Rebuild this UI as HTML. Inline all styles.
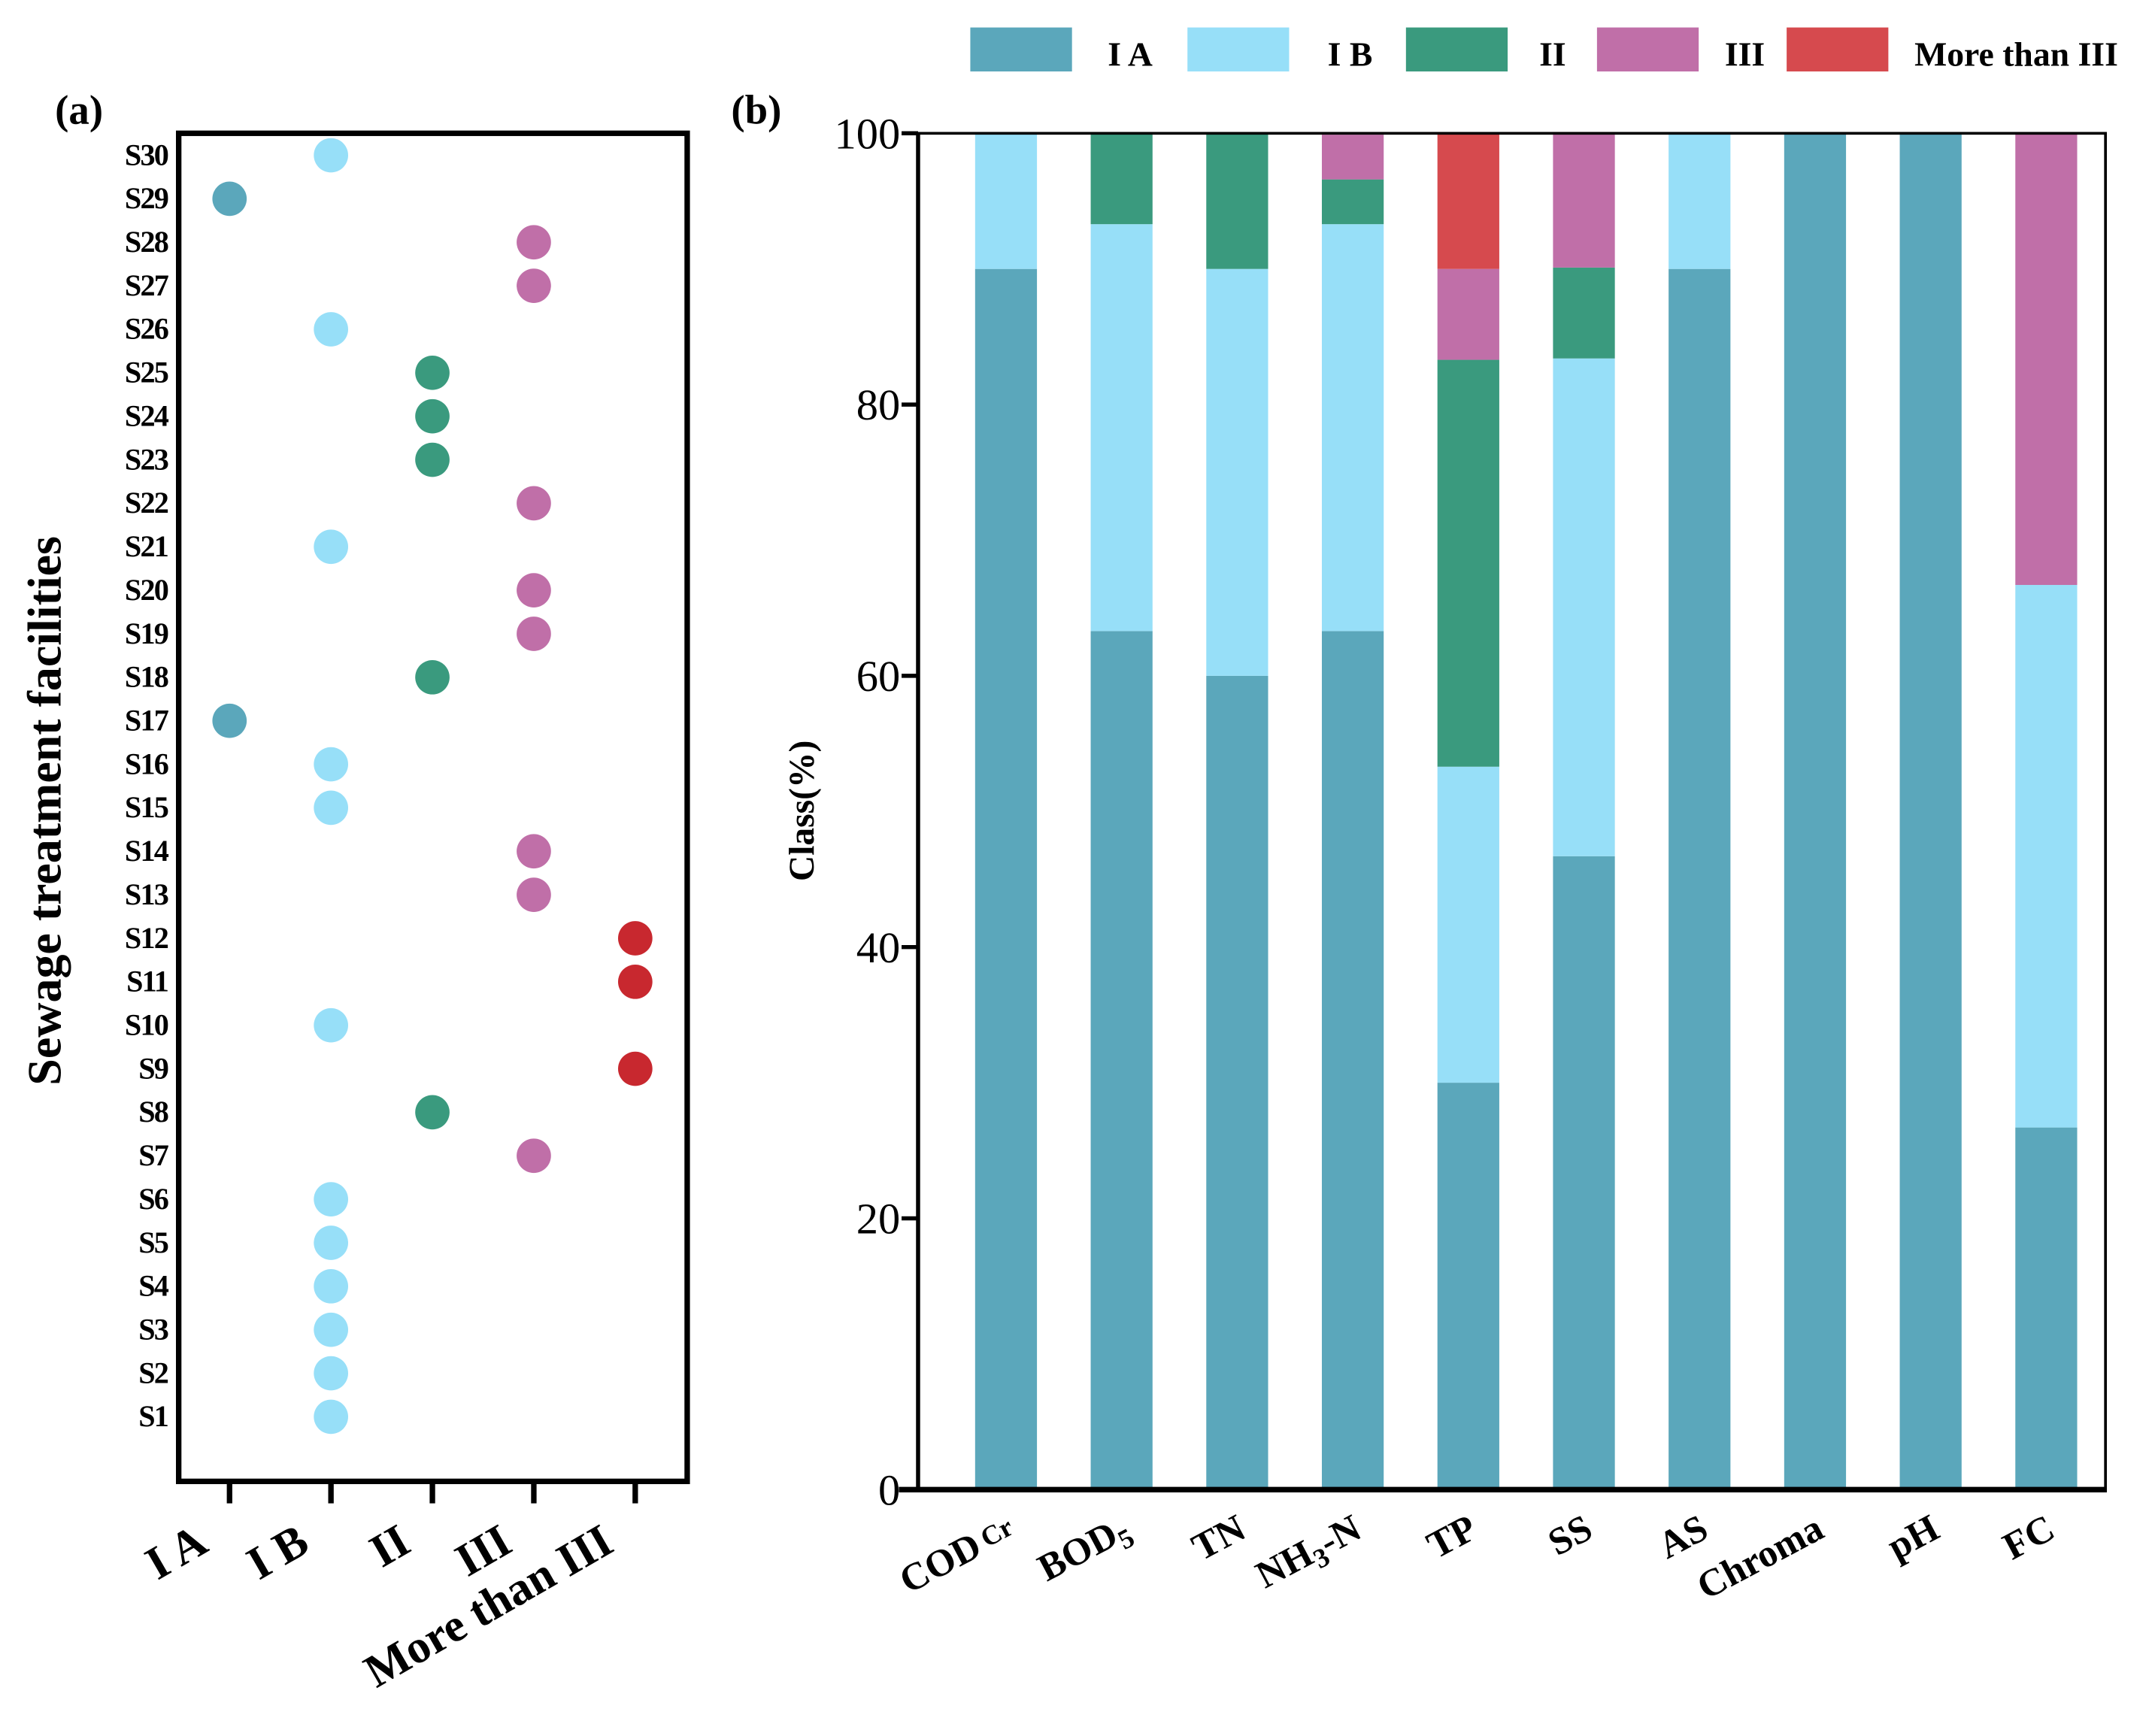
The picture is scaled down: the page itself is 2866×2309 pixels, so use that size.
<!DOCTYPE html>
<html><head><meta charset="utf-8"><style>
html,body{margin:0;padding:0;background:#fff}
svg{display:block}
text{font-family:"Liberation Serif",serif}
</style></head><body>
<svg id="chart" width="2866" height="2309" viewBox="0 0 1568 1263.3" xmlns="http://www.w3.org/2000/svg">
<g id="pa"></g>
<g id="pb"></g>
</svg>
<script>
const classes=["I A","I B","II","III","More than III"];
const classColors=["#5ba7bb","#97dff8","#3a9a7e","#c06fa8","#d64a4e"];
const dotColors=["#5ba7bb","#97dff8","#3a9a7e","#c06fa8","#c8282f"];
// facility S1..S30 class index
const facilityClass=[1,1,1,1,1,1,3,2,4,1,4,4,3,3,1,1,0,2,3,3,1,3,2,2,2,1,3,3,0,1];
const params=["COD","BOD","TN","NH3-N","TP","SS","AS","Chroma","pH","FC"];
const sIA=[90,63.3,60,63.3,30,46.7,90,100,100,26.7];
const sIB=[10,30,30,30,23.3,36.7,10,0,0,40];
const sII=[0,6.7,10,3.3,30,6.7,0,0,0,0];
const sIII=[0,0,0,3.3,6.7,10,0,0,0,33.3];
const sMore=[0,0,0,0,10,0,0,0,0,0];
const yTicks=[0,20,40,60,80,100];

const NS="http://www.w3.org/2000/svg";
function mk(p,t,a,txt){const e=document.createElementNS(NS,t);for(const k in a)e.setAttribute(k,a[k]);if(txt!==undefined)e.textContent=txt;p.appendChild(e);return e;}
const pa=document.getElementById('pa'),pb=document.getElementById('pb');

// ---- Panel a
const aL=130,aR=500,aT=97,aB=1078;
const ax=i=>167+i*73.8;
const ay=s=>1031-(s-1)*(1031-113)/29;
let t=mk(pa,'text',{x:40,y:90,'font-size':30,'font-weight':'bold'},'(a)');

let r=mk(pa,'rect',{x:aL,y:aT,width:aR-aL,height:aB-aT,fill:'none',stroke:'#000','stroke-width':4});

for(let s=1;s<=30;s++){
  const l=mk(pa,'text',{x:122,y:ay(s)+7,'font-size':22,'font-weight':'bold','text-anchor':'end','letter-spacing':-1},'S'+s);
  
  const c=facilityClass[s-1];
  const d=mk(pa,'ellipse',{cx:ax(c),cy:ay(s),rx:12.5,ry:12.5,fill:dotColors[c]});
  
}
classes.forEach((c,i)=>{
  const tk=mk(pa,'line',{x1:ax(i),x2:ax(i),y1:aB,y2:aB+16,stroke:'#000','stroke-width':4});
  
  const lb=mk(pa,'text',{x:ax(i)-14,y:aB+50,'font-size':34,'font-weight':'bold','text-anchor':'end',transform:`rotate(-30 ${ax(i)-14} ${aB+50})`},c);
  
});
t=mk(pa,'text',{x:44,y:590,'font-size':35,'font-weight':'bold','text-anchor':'middle',transform:'rotate(-90 44 590)'},'Sewage treatment facilities');


// ---- Panel b
const bL=668,bR=1532,bT=97,bB=1084;
const by=v=>bB-(bB-bT)*v/100;
const bx=i=>732+i*84.1;
t=mk(pb,'text',{x:532,y:90,'font-size':30,'font-weight':'bold'},'(b)');

const series=[sIA,sIB,sII,sIII,sMore];
params.forEach((p,i)=>{
  let acc=0;
  series.forEach((s,k)=>{
    const v=s[i]; if(v<=0) return;
    const b=mk(pb,'rect',{x:bx(i)-22.5,y:by(acc+v),width:45,height:by(acc)-by(acc+v),fill:classColors[k]});
    
    acc+=v;
  });
});
r=mk(pb,'path',{d:`M${bL} ${bT}H${bR}V${bB}`,fill:'none',stroke:'#000','stroke-width':2});

r=mk(pb,'line',{x1:bL,x2:bL,y1:bT,y2:bB,stroke:'#000','stroke-width':3});

r=mk(pb,'line',{x1:bL-14,x2:bR+1,y1:bB,y2:bB,stroke:'#000','stroke-width':4});

yTicks.forEach(v=>{
  const tk=mk(pb,'line',{x1:bL-12,x2:bL,y1:by(v),y2:by(v),stroke:'#000','stroke-width':3});
  
  const l=mk(pb,'text',{x:655,y:by(v)+11,'font-size':32,'text-anchor':'end'},String(v));
  
});
const xl=[["COD","Cr"],["BOD","5"],["TN",""],["NH","3","-N"],["TP",""],["SS",""],["AS",""],["Chroma",""],["pH",""],["FC",""]];
xl.forEach((p,i)=>{
  const x=bx(i)+8,y=bB+34;
  const l=mk(pb,'text',{x:x,y:y,'font-size':28,'font-weight':'bold','text-anchor':'end',transform:`rotate(-28 ${x} ${y})`});
  
  mk(l,'tspan',{},p[0]);
  if(p[1]) mk(l,'tspan',{'font-size':20,dy:(i==0?-3:6),dx:(i==0?4:0)},p[1]);
  if(p[2]) mk(l,'tspan',{dy:-6},p[2]);
});
t=mk(pb,'text',{x:592,y:590,'font-size':26,'font-weight':'bold','text-anchor':'middle',transform:'rotate(-90 592 590)'},'Class(%)');


// legend
const legSw=[706,864,1023,1162,1300];
const legTx=[806,966,1120,1255,1393];
classes.forEach((c,k)=>{
  const g=mk(pb,'g',{});
  
  mk(g,'rect',{x:legSw[k],y:20,width:74,height:32,fill:classColors[k]});
  mk(g,'text',{x:legTx[k],y:48,'font-size':25,'font-weight':'bold'},c);
});
</script>
</body></html>
